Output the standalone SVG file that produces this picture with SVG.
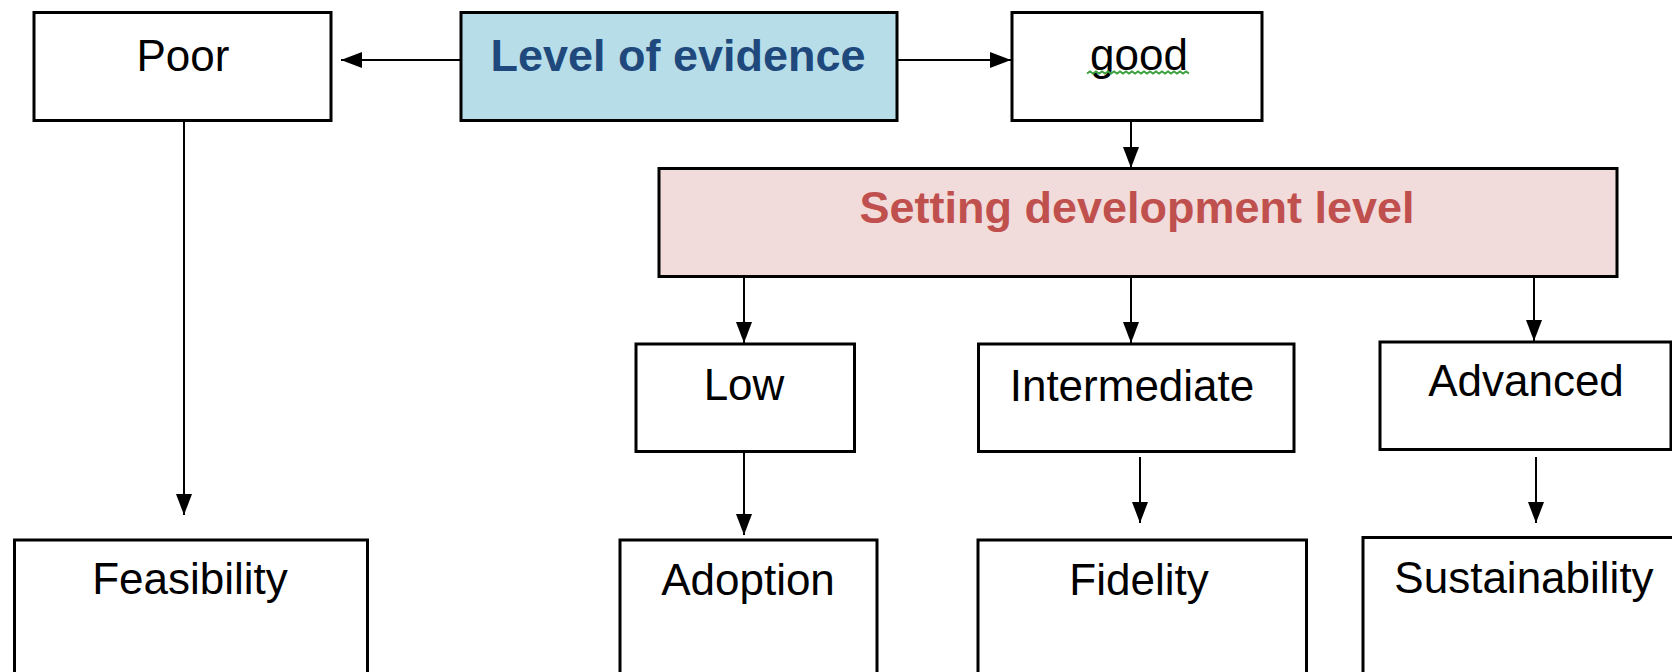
<svg xmlns="http://www.w3.org/2000/svg" width="1672" height="672" viewBox="0 0 1672 672">
<defs>
<style>
.box{fill:#ffffff;stroke:#000000;stroke-width:3}
.blue{fill:#B7DEE8;stroke:#000000;stroke-width:3}
.pink{fill:#F2DCDB;stroke:#000000;stroke-width:3}
.t{font-family:"Liberation Sans",Arial,sans-serif;font-size:44px;fill:#000000;text-anchor:middle}
.tb{font-family:"Liberation Sans",Arial,sans-serif;font-size:45px;font-weight:bold;text-anchor:middle}
.c{stroke:#000000;stroke-width:2;fill:none;marker-end:url(#ah)}
</style>
<marker id="ah" markerUnits="userSpaceOnUse" markerWidth="24" markerHeight="18" refX="21" refY="8" orient="auto">
<path d="M0,0 L21,8 L0,16 z" fill="#000000"/>
</marker>
</defs>
<rect width="1672" height="672" fill="#ffffff"/>
<g id="connectors">
<line class="c" x1="460" y1="60" x2="341" y2="60"/>
<line class="c" x1="897" y1="60" x2="1011" y2="60"/>
<line class="c" x1="184" y1="120" x2="184" y2="515"/>
<line class="c" x1="1131" y1="121" x2="1131" y2="168"/>
<line class="c" x1="744" y1="276" x2="744" y2="343"/>
<line class="c" x1="1131" y1="276" x2="1131" y2="343"/>
<line class="c" x1="1534" y1="276" x2="1534" y2="341"/>
<line class="c" x1="744" y1="452" x2="744" y2="535"/>
<line class="c" x1="1140" y1="457" x2="1140" y2="523"/>
<line class="c" x1="1536" y1="457" x2="1536" y2="523"/>
</g>
<g id="poor">
<rect class="box" x="34" y="12.5" width="297" height="108"/>
<text class="t" x="183" y="71">Poor</text>
</g>
<g id="level">
<rect class="blue" x="461" y="12.5" width="436" height="108"/>
<text class="tb" x="678" y="71" fill="#1F497D">Level of evidence</text>
</g>
<g id="good">
<rect class="box" x="1012" y="12.5" width="250" height="108"/>
<text class="t" x="1139" y="70">good</text>
<path d="M1087,73.5 l3,-2 l3,2 l3,-2 l3,2 l3,-2 l3,2 l3,-2 l3,2 l3,-2 l3,2 l3,-2 l3,2 l3,-2 l3,2 l3,-2 l3,2 l3,-2 l3,2 l3,-2 l3,2 l3,-2 l3,2 l3,-2 l3,2 l3,-2 l3,2 l3,-2 l3,2 l3,-2 l3,2 l3,-2 l3,2 l3,-2 l3,2" fill="none" stroke="#3CA03C" stroke-width="2"/>
</g>
<g id="setting">
<rect class="pink" x="659" y="168.5" width="958" height="108"/>
<text class="tb" x="1137" y="223" fill="#C0504D">Setting development level</text>
</g>
<g id="low">
<rect class="box" x="636" y="344" width="218.5" height="107.5"/>
<text class="t" x="744" y="400">Low</text>
</g>
<g id="intermediate">
<rect class="box" x="978.5" y="344" width="315.5" height="107.5"/>
<text class="t" x="1132" y="401">Intermediate</text>
</g>
<g id="advanced">
<rect class="box" x="1380" y="342" width="291" height="107.5"/>
<text class="t" x="1526" y="396">Advanced</text>
</g>
<g id="feasibility">
<rect class="box" x="14.5" y="540" width="353" height="160"/>
<text class="t" x="190" y="594">Feasibility</text>
</g>
<g id="adoption">
<rect class="box" x="620" y="540" width="257" height="160"/>
<text class="t" x="748" y="595">Adoption</text>
</g>
<g id="fidelity">
<rect class="box" x="978" y="540" width="328.5" height="160"/>
<text class="t" x="1139" y="595">Fidelity</text>
</g>
<g id="sustainability">
<rect class="box" x="1363" y="537.5" width="330" height="170"/>
<text class="t" x="1524" y="593">Sustainability</text>
</g>
</svg>
